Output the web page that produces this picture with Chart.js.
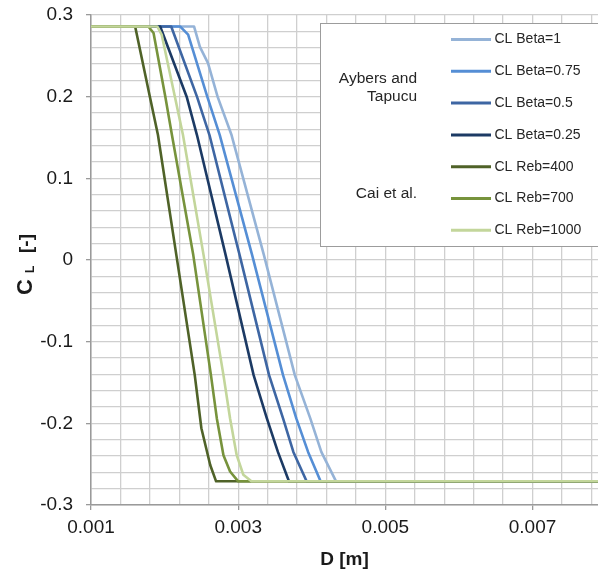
<!DOCTYPE html>
<html>
<head>
<meta charset="utf-8">
<script src="https://cdn.jsdelivr.net/npm/chart.js@4.4.1/dist/chart.umd.min.js"></script>
<style>
  html, body { margin: 0; padding: 0; background: #ffffff; }
  canvas { display: block; }
</style>
</head>
<body>
<canvas id="chart" width="598" height="573"></canvas>
<script>
const FONT = '"Liberation Sans", Arial, sans-serif';

// Lift coefficient CL against bubble diameter D [m]
const dBeta1    = [0.0010, 0.00240, 0.00248, 0.00259, 0.00272, 0.00291, 0.00335, 0.00377, 0.00398, 0.00413, 0.00433, 0.0080];
const clBeta1   = [0.286, 0.286, 0.261, 0.241, 0.200, 0.153, 0.006, -0.141, -0.194, -0.235, -0.271, -0.271];

const dBeta075  = [0.0010, 0.00221, 0.00232, 0.00258, 0.00275, 0.00319, 0.00361, 0.00379, 0.00395, 0.00412, 0.0080];
const clBeta075 = [0.286, 0.286, 0.276, 0.200, 0.153, 0.006, -0.141, -0.194, -0.235, -0.271, -0.271];

const dBeta05   = [0.0010, 0.00209, 0.00244, 0.00261, 0.00302, 0.00342, 0.00361, 0.00375, 0.00393, 0.0080];
const clBeta05  = [0.286, 0.286, 0.200, 0.153, 0.006, -0.141, -0.194, -0.235, -0.271, -0.271];

const dBeta025  = [0.0010, 0.00194, 0.00230, 0.00244, 0.00283, 0.00321, 0.00339, 0.00354, 0.00369, 0.0080];
const clBeta025 = [0.286, 0.286, 0.200, 0.153, 0.006, -0.141, -0.194, -0.235, -0.271, -0.271];

const dReb400   = [0.0010, 0.00160, 0.00180, 0.00191, 0.00216, 0.00241, 0.00250, 0.00262, 0.00270, 0.0080];
const clReb400  = [0.286, 0.286, 0.200, 0.153, 0.006, -0.141, -0.206, -0.251, -0.271, -0.271];

const dReb700   = [0.0010, 0.00178, 0.00185, 0.00201, 0.00210, 0.00239, 0.00263, 0.00271, 0.00280, 0.00289, 0.00300, 0.0080];
const clReb700  = [0.286, 0.286, 0.278, 0.200, 0.153, 0.006, -0.141, -0.194, -0.239, -0.259, -0.271, -0.271];

const dReb1000  = [0.0010, 0.00190, 0.00196, 0.00214, 0.00225, 0.00253, 0.00280, 0.00289, 0.00298, 0.00307, 0.00318, 0.0080];
const clReb1000 = [0.286, 0.286, 0.276, 0.200, 0.153, 0.006, -0.141, -0.194, -0.239, -0.263, -0.271, -0.271];

const seriesLabels = ['CL Beta=1', 'CL Beta=0.75', 'CL Beta=0.5', 'CL Beta=0.25', 'CL Reb=400', 'CL Reb=700', 'CL Reb=1000'];
const seriesColors = ['#95b3d7', '#558ed5', '#3e66a3', '#1c3a64', '#4f6228', '#77933c', '#c3d69b'];
const groupNotes   = [['Aybers and', 'Tapucu'], ['Cai et al.']];

const xTickLabels = ['0.001', '0.003', '0.005', '0.007'];
const yTickLabels = ['-0.3', '-0.2', '-0.1', '0', '0.1', '0.2', '0.3'];

const xSeries = [dBeta1, dBeta075, dBeta05, dBeta025, dReb400, dReb700, dReb1000];
const ySeries = [clBeta1, clBeta075, clBeta05, clBeta025, clReb400, clReb700, clReb1000];

// grid positions (minor units of the two axes)
const xGrid = [];
for (let k = 0; k <= 17; k++) xGrid.push(Math.round((0.001 + k * 0.0004) * 1e7) / 1e7);
const yGrid = [];
for (let k = 0; k <= 30; k++) yGrid.push(Math.round((-0.3 + k * 0.02) * 1e4) / 1e4);

const labelFor = (list, v) => {
  const hit = list.find(l => Math.abs(parseFloat(l) - v) < 1e-9);
  return hit === undefined ? '' : hit;
};

const datasets = seriesLabels.map((label, i) => ({
  label,
  data: xSeries[i].map((x, j) => ({ x, y: ySeries[i][j] })),
  borderColor: seriesColors[i],
  backgroundColor: seriesColors[i],
  borderWidth: 2.6,
  borderJoinStyle: 'round',
  pointRadius: 0,
  pointHoverRadius: 0,
  tension: 0,
  fill: false,
  order: seriesLabels.length - i
}));

// boxed legend with the two source notes on its left
const legendPanel = {
  id: 'legendPanel',
  afterDatasetsDraw(chart) {
    const ctx = chart.ctx;
    ctx.save();
    ctx.fillStyle = '#ffffff';
    ctx.fillRect(320.5, 23.5, 300, 223);
    ctx.strokeStyle = '#9c9c9c';
    ctx.lineWidth = 1;
    ctx.strokeRect(320.5, 23.5, 300, 223);

    ctx.fillStyle = '#262626';
    ctx.textAlign = 'right';
    ctx.textBaseline = 'middle';
    ctx.font = '15.5px ' + FONT;
    ctx.fillText(groupNotes[0][0], 417, 78.5);
    ctx.fillText(groupNotes[0][1], 417, 97);
    ctx.fillText(groupNotes[1][0], 417, 193.5);

    ctx.textAlign = 'left';
    ctx.font = '14px ' + FONT;
    chart.data.datasets.forEach((ds, i) => {
      const y = 39.5 + i * 31.8;
      ctx.strokeStyle = ds.borderColor;
      ctx.lineWidth = 3;
      ctx.beginPath();
      ctx.moveTo(451, y);
      ctx.lineTo(491, y);
      ctx.stroke();
      ctx.fillStyle = '#262626';
      ctx.fillText(ds.label, 494.5, y);
    });
    ctx.restore();
  }
};

// vertical axis title with subscript: C_L [-]
const yTitle = {
  id: 'yTitle',
  afterDraw(chart) {
    const ctx = chart.ctx;
    ctx.save();
    ctx.translate(24, 265);
    ctx.rotate(-Math.PI / 2);
    ctx.fillStyle = '#1a1a1a';
    ctx.textAlign = 'left';
    ctx.textBaseline = 'alphabetic';
    ctx.font = 'bold 22px ' + FONT;
    ctx.fillText('C', -30, 7.5);
    ctx.font = 'bold 12px ' + FONT;
    ctx.fillText('L', -8, 9.5);
    ctx.font = 'bold 19px ' + FONT;
    ctx.fillText('[-]', 12, 7.5);
    ctx.restore();
  }
};

new Chart(document.getElementById('chart'), {
  type: 'line',
  data: { datasets },
  plugins: [legendPanel, yTitle],
  options: {
    responsive: false,
    animation: false,
    events: [],
    layout: { padding: { top: 15, right: 0, bottom: 0, left: 0 } },
    plugins: { legend: { display: false }, tooltip: { enabled: false } },
    scales: {
      x: {
        type: 'linear',
        min: 0.001,
        max: 0.00789,
        afterBuildTicks: s => { s.ticks = xGrid.map(v => ({ value: v })); },
        afterFit: s => { s.height = 68; },
        grid: {
          color: '#cfcfcf',
          lineWidth: 1.3,
          tickLength: 5,
          tickColor: c => labelFor(xTickLabels, c.tick.value) ? '#9a9a9a' : 'rgba(0,0,0,0)'
        },
        border: { color: '#9a9a9a', width: 1.5 },
        ticks: {
          autoSkip: false,
          maxRotation: 0,
          padding: 6,
          color: '#1a1a1a',
          font: { family: FONT, size: 19 },
          callback: v => labelFor(xTickLabels, v)
        },
        title: {
          display: true,
          text: 'D [m]',
          color: '#1a1a1a',
          font: { family: FONT, size: 19, weight: 'bold' },
          padding: { top: 0, bottom: 2 }
        }
      },
      y: {
        type: 'linear',
        min: -0.3,
        max: 0.3,
        afterBuildTicks: s => { s.ticks = yGrid.map(v => ({ value: v })); },
        afterFit: s => { s.width = 91; },
        grid: {
          color: '#cfcfcf',
          lineWidth: 1.3,
          tickLength: 5,
          tickColor: c => labelFor(yTickLabels, c.tick.value) ? '#9a9a9a' : 'rgba(0,0,0,0)'
        },
        border: { color: '#9a9a9a', width: 1.5 },
        ticks: {
          autoSkip: false,
          padding: 13,
          color: '#1a1a1a',
          font: { family: FONT, size: 19, lineHeight: 0.1 },
          callback: v => labelFor(yTickLabels, v)
        }
      }
    }
  }
});
</script>
</body>
</html>
